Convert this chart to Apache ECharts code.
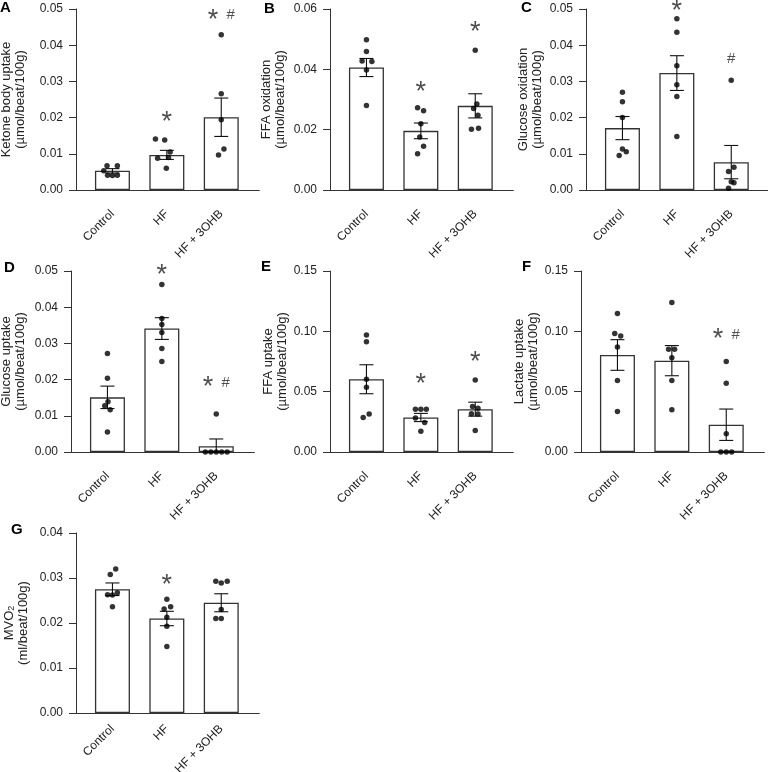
<!DOCTYPE html>
<html>
<head>
<meta charset="utf-8">
<script src="https://cdn.jsdelivr.net/npm/echarts@6.0.0/dist/echarts.min.js"></script>
<style>
  html, body { margin: 0; padding: 0; background: #fff; }
  #chart { width: 768px; height: 772px; }
</style>
</head>
<body>
<div id="chart"></div>
<script>
const groups = ['Control', 'HF', 'HF + 3OHB'];

// dots are [group, horizontal jitter, value]
// A - ketone body uptake
const meanA = [0.0053, 0.0097, 0.0201];
const semA = [0.0006, 0.00125, 0.0053];
const dotsA = [
  [0, -0.10, 0.0067], [0, 0.09, 0.0067], [0, -0.16, 0.0053], [0, -0.09, 0.0041], [0, 0.0, 0.0040], [0, 0.09, 0.0041],
  [1, -0.21, 0.0141], [1, -0.04, 0.0138], [1, 0.06, 0.0105], [1, -0.17, 0.0088], [1, 0.03, 0.0090], [1, -0.01, 0.0060],
  [2, 0.0, 0.0429], [2, 0.0, 0.0266], [2, 0.0, 0.0194], [2, 0.05, 0.0113], [2, -0.05, 0.0097]
];
const sigA = ['', '*', '* #'];
const sigYA = [0, 0.0199, 0.0483];

// B - FFA oxidation
const meanB = [0.0406, 0.0196, 0.0279];
const semB = [0.0030, 0.0026, 0.0040];
const dotsB = [
  [0, 0, 0.0498], [0, 0, 0.0459], [0, -0.08, 0.0428], [0, 0.10, 0.0426], [0, 0, 0.0398], [0, 0, 0.0280],
  [1, -0.06, 0.0273], [1, 0.05, 0.0263], [1, 0, 0.0220], [1, -0.02, 0.0176], [1, 0.05, 0.0145], [1, -0.06, 0.0120],
  [2, 0, 0.0463], [2, 0.03, 0.0285], [2, -0.03, 0.0270], [2, 0.05, 0.0248], [2, -0.07, 0.0201], [2, 0.06, 0.0205]
];
const sigB = ['', '*', '*'];
const sigYB = [0, 0.0341, 0.0537];

// C - glucose oxidation
const meanC = [0.0171, 0.0323, 0.0077];
const semC = [0.0032, 0.0048, 0.0046];
const dotsC = [
  [0, 0, 0.0270], [0, 0, 0.0244], [0, 0, 0.0200], [0, 0, 0.0113], [0, 0.07, 0.0106], [0, -0.06, 0.0095],
  [1, 0, 0.0473], [1, 0, 0.0436], [1, 0, 0.0343], [1, 0, 0.0291], [1, 0, 0.0258], [1, 0, 0.0148],
  [2, 0, 0.0303], [2, 0.05, 0.0063], [2, -0.05, 0.0051], [2, 0, 0.0023], [2, 0.05, 0.0020], [2, -0.05, 0.0005]
];
const sigC = ['', '*', '#'];
const sigYC = [0, 0.0508, 0.0362];

// D - glucose uptake
const meanD = [0.0151, 0.0341, 0.0016];
const semD = [0.0031, 0.0030, 0.0020];
const dotsD = [
  [0, 0, 0.0272], [0, 0, 0.0204], [0, 0.01, 0.0139], [0, -0.05, 0.0128], [0, 0.05, 0.0117], [0, 0, 0.0055],
  [1, 0, 0.0463], [1, 0, 0.0369], [1, 0, 0.0352], [1, 0, 0.0330], [1, 0, 0.0286], [1, 0, 0.0250],
  [2, 0, 0.0105], [2, -0.2, 0], [2, -0.1, 0], [2, 0, 0], [2, 0.1, 0], [2, 0.2, 0]
];
const sigD = ['', '*', '* #'];
const sigYD = [0, 0.0500, 0.0191];

// E - FFA uptake
const meanE = [0.0603, 0.0286, 0.0355];
const semE = [0.0120, 0.0034, 0.0058];
const dotsE = [
  [0, 0, 0.0969], [0, 0, 0.0914], [0, 0, 0.0603], [0, 0, 0.0537], [0, -0.06, 0.0286], [0, 0.05, 0.0314],
  [1, -0.1, 0.0355], [1, 0, 0.0355], [1, 0.1, 0.0355], [1, -0.1, 0.0281], [1, 0.07, 0.0245], [1, 0, 0.0171],
  [2, 0, 0.0597], [2, -0.05, 0.0377], [2, 0.05, 0.0363], [2, -0.07, 0.0317], [2, 0.05, 0.0314], [2, 0, 0.0179]
];
const sigE = ['', '*', '*'];
const sigYE = [0, 0.0597, 0.0779];

// F - lactate uptake
const meanF = [0.0804, 0.0757, 0.0226];
const semF = [0.0127, 0.0125, 0.0130];
const dotsF = [
  [0, 0, 0.1148], [0, -0.05, 0.0983], [0, 0.06, 0.0961], [0, 0, 0.0870], [0, 0, 0.0592], [0, 0, 0.0336],
  [1, 0, 0.1239], [1, -0.06, 0.0851], [1, 0.05, 0.0851], [1, 0, 0.0782], [1, 0, 0.0592], [1, 0, 0.0350],
  [2, 0, 0.0749], [2, 0, 0.0570], [2, 0, 0.0151], [2, -0.1, 0], [2, 0, 0], [2, 0.1, 0]
];
const sigF = ['', '', '* #'];
const sigYF = [0, 0, 0.0971];

// G - MVO2
const meanG = [0.0275, 0.0210, 0.0245];
const semG = [0.0014, 0.0016, 0.0020];
const dotsG = [
  [0, 0.06, 0.0320], [0, -0.04, 0.0308], [0, -0.09, 0.0263], [0, 0, 0.0262], [0, 0.09, 0.0267], [0, 0, 0.0236],
  [1, 0, 0.0253], [1, 0.07, 0.0236], [1, -0.05, 0.0231], [1, 0, 0.0213], [1, 0, 0.0193], [1, 0, 0.0148],
  [2, -0.1, 0.0293], [2, 0, 0.0289], [2, 0.11, 0.0293], [2, 0, 0.0230], [2, -0.1, 0.0210], [2, 0, 0.0210]
];
const sigG = ['', '*', ''];
const sigYG = [0, 0.0295, 0];

const FONT = '"Liberation Sans", Arial, Helvetica, sans-serif';
const INK = '#222';
const X_MIN = -0.67, X_MAX = 2.7, BAND = 54.4;

const panels = [
  { letter: 'A', lx: 0, ly: 0, left: 76, top: 9, height: 181, max: 0.05, step: 0.01, gap: 49, lm: 22,
    name: 'Ketone body uptake\n(µmol/beat/100g)', mean: meanA, sem: semA, dots: dotsA, sig: sigA, sigY: sigYA },
  { letter: 'B', lx: 264, ly: 1, left: 330, top: 9, height: 181, max: 0.06, step: 0.02, gap: 43, lm: 22,
    name: 'FFA oxidation\n(µmol/beat/100g)', mean: meanB, sem: semB, dots: dotsB, sig: sigB, sigY: sigYB },
  { letter: 'C', lx: 521, ly: 0, left: 586, top: 9, height: 181, max: 0.05, step: 0.01, gap: 42, lm: 22,
    name: 'Glucose oxidation\n(µmol/beat/100g)', mean: meanC, sem: semC, dots: dotsC, sig: sigC, sigY: sigYC },
  { letter: 'D', lx: 4, ly: 260, left: 71, top: 271, height: 181, max: 0.05, step: 0.01, gap: 44, lm: 22,
    name: 'Glucose uptake\n(µmol/beat/100g)', mean: meanD, sem: semD, dots: dotsD, sig: sigD, sigY: sigYD },
  { letter: 'E', lx: 261, ly: 259, left: 330, top: 271, height: 181, max: 0.15, step: 0.05, gap: 41, lm: 22,
    name: 'FFA uptake\n(µmol/beat/100g)', mean: meanE, sem: semE, dots: dotsE, sig: sigE, sigY: sigYE },
  { letter: 'F', lx: 522, ly: 259, left: 581, top: 271, height: 181, max: 0.15, step: 0.05, gap: 40, lm: 22,
    name: 'Lactate uptake\n(µmol/beat/100g)', mean: meanF, sem: semF, dots: dotsF, sig: sigF, sigY: sigYF },
  { letter: 'G', lx: 11, ly: 522, left: 76, top: 533, height: 180, max: 0.04, step: 0.01, gap: 46, lm: 14,
    name: 'MVO{sub|2}\n(ml/beat/100g)', mean: meanG, sem: semG, dots: dotsG, sig: sigG, sigY: sigYG }
];

const chart = echarts.init(document.getElementById('chart'));

const axisLine = { show: true, onZero: false, lineStyle: { color: '#333', width: 1 } };

const grid = panels.map((p) => ({
  left: p.left,
  top: p.top,
  width: (X_MAX - X_MIN) * BAND,
  height: p.height,
  containLabel: false,
  outerBoundsMode: 'none'
}));

const xAxis = panels.map((p, i) => ({
  gridIndex: i,
  type: 'value',
  min: X_MIN,
  max: X_MAX,
  splitLine: { show: false },
  axisLine,
  axisTick: { show: false },
  axisLabel: {
    customValues: [0, 1, 2],
    formatter: (v) => groups[Math.round(v)],
    rotate: 45,
    margin: p.lm,
    fontSize: 12,
    color: INK,
    fontFamily: FONT
  }
}));

const yAxis = panels.map((p, i) => ({
  gridIndex: i,
  type: 'value',
  min: 0,
  max: p.max,
  interval: p.step,
  splitLine: { show: false },
  axisLine,
  axisTick: { show: true, length: 7, lineStyle: { color: '#333' } },
  axisLabel: {
    formatter: (v) => v.toFixed(2),
    fontSize: 12,
    margin: 13,
    color: INK,
    fontFamily: FONT
  },
  name: p.name,
  nameLocation: 'middle',
  nameGap: p.gap,
  nameRotate: 90,
  nameTextStyle: {
    fontSize: 13,
    lineHeight: 14,
    color: INK,
    fontFamily: FONT,
    rich: { sub: { fontSize: 9, lineHeight: 14, verticalAlign: 'bottom', fontFamily: FONT, color: INK } }
  }
}));

const series = [];
panels.forEach((p, i) => {
  // bars (mean)
  series.push({
    type: 'bar',
    xAxisIndex: i,
    yAxisIndex: i,
    data: p.mean.map((m, g) => [g, m]),
    barWidth: 35,
    itemStyle: { color: '#fff', borderColor: '#333', borderWidth: 1.3 },
    silent: true,
    z: 2
  });
  // SEM error bars
  series.push({
    type: 'custom',
    xAxisIndex: i,
    yAxisIndex: i,
    data: p.mean.map((m, g) => [g, m, p.sem[g]]),
    encode: { x: 0, y: 1 },
    renderItem: (params, api) => {
      const x = api.value(0);
      const m = api.value(1);
      const s = api.value(2);
      const hi = api.coord([x, m + s]);
      const lo = api.coord([x, Math.max(0, m - s)]);
      const w = 7;
      const style = { stroke: '#111', lineWidth: 1.1 };
      return {
        type: 'group',
        children: [
          { type: 'line', shape: { x1: hi[0], y1: hi[1], x2: lo[0], y2: lo[1] }, style },
          { type: 'line', shape: { x1: hi[0] - w, y1: hi[1], x2: hi[0] + w, y2: hi[1] }, style },
          { type: 'line', shape: { x1: lo[0] - w, y1: lo[1], x2: lo[0] + w, y2: lo[1] }, style }
        ]
      };
    },
    silent: true,
    z: 3
  });
  // individual animals
  series.push({
    type: 'scatter',
    xAxisIndex: i,
    yAxisIndex: i,
    data: p.dots.map((d) => [d[0] + d[1], d[2]]),
    symbolSize: 5.5,
    itemStyle: { color: '#000' },
    silent: true,
    z: 4
  });
  // significance marks
  series.push({
    type: 'scatter',
    xAxisIndex: i,
    yAxisIndex: i,
    data: p.sig.map((s, g) => [g, p.sigY[g], s]).filter((d) => d[2] !== ''),
    symbolSize: 0,
    clip: false,
    silent: true,
    label: {
      show: true,
      position: 'inside',
      formatter: (prm) => prm.value[2].split(' ')
        .map((t) => (t === '*' ? '{s|*}' : '{h|#}')).join('{h|  }'),
      rich: {
        s: { fontSize: 27, fontFamily: FONT, color: INK, lineHeight: 16, padding: [10, 0, 0, 0] },
        h: { fontSize: 15, fontFamily: FONT, color: INK, lineHeight: 16 }
      }
    },
    z: 5
  });
});

const title = panels.map((p) => ({
  text: p.letter,
  left: p.lx,
  top: p.ly,
  padding: 0,
  textStyle: { fontSize: 15, fontWeight: 'bold', color: '#000', fontFamily: FONT }
}));

chart.setOption({
  animation: false,
  backgroundColor: '#fff',
  title,
  grid,
  xAxis,
  yAxis,
  series
});
</script>
</body>
</html>
